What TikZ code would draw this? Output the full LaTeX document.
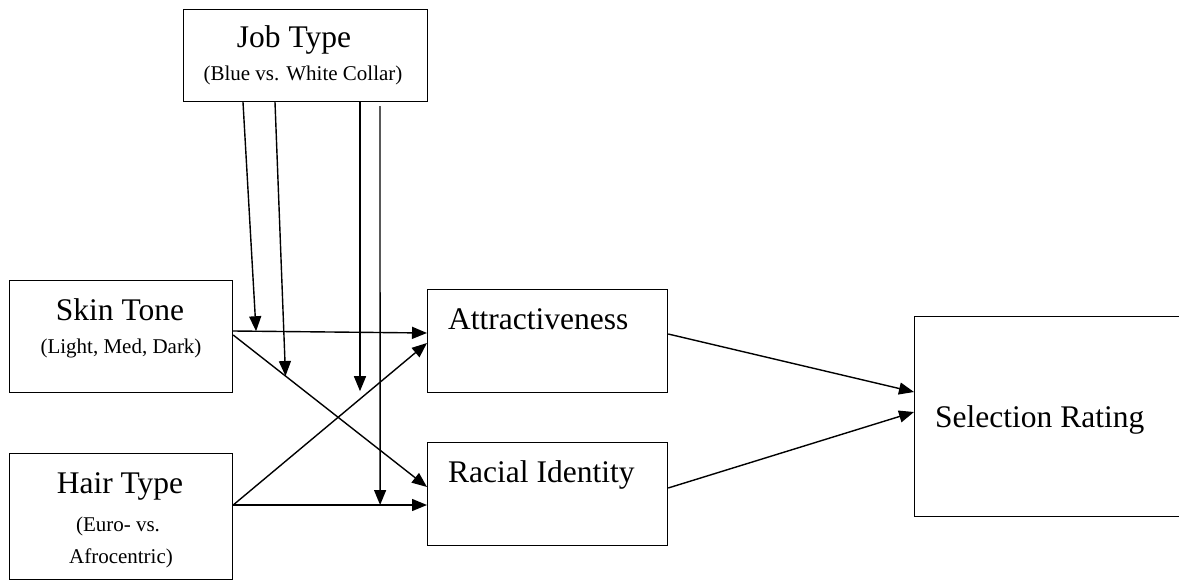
\documentclass[tikz,border=0pt]{standalone}
\usepackage{fontspec}
\setmainfont{Liberation Serif}
\usetikzlibrary{arrows.meta,calc}
\begin{document}
\begin{tikzpicture}[x=1pt,y=-1pt,
  box/.style={draw, line width=1.2pt, rectangle, inner sep=0pt, anchor=north west},
  title/.style={font=\fontsize{31.5}{36}\selectfont, inner sep=0pt},
  sub/.style={font=\fontsize{21}{25}\selectfont, inner sep=0pt},
  link/.style={line width=1.4pt, -{Triangle[length=15pt,width=12pt]}}]
\useasboundingbox (0,0) rectangle (1179,581);
\clip (0,0) rectangle (1179,581);

% boxes
\node[box, minimum width=244pt, minimum height=92pt]  (job)    at (183,9)   {};
\node[box, minimum width=223pt, minimum height=112pt] (skin)   at (9,280)   {};
\node[box, minimum width=223pt, minimum height=126pt] (hair)   at (9,453)   {};
\node[box, minimum width=240pt, minimum height=103pt] (attr)   at (427,289) {};
\node[box, minimum width=240pt, minimum height=103pt] (racial) at (427,442) {};
\node[box, minimum width=340pt, minimum height=200pt] (sel)    at (914,316) {};

% labels
\node[title, anchor=base] (jobt)  at (294,47)  {Job Type};
\node[sub,   anchor=base] (jobs)  at (303,80)  {(Blue vs. White Collar)};
\node[title, anchor=base] (skint) at (120,320) {Skin Tone};
\node[sub,   anchor=base] (skins) at (121,353) {(Light, Med, Dark)};
\node[title, anchor=base] (hairt) at (120,493) {Hair Type};
\node[sub,   anchor=base] (hairs) at (118,531) {(Euro- vs.};
\node[sub,   anchor=base] (hairu) at (121,563) {Afrocentric)};
\node[title, anchor=base west] (attrt) at (448,329) {Attractiveness};
\node[title, anchor=base west] (racit) at (448,482) {Racial Identity};
\node[title, anchor=base west] (selt)  at (935,427) {Selection Rating};

% connector end points
\coordinate (s1)   at ($(skin.north east)+(0,51)$);
\coordinate (s2)   at ($(skin.north east)+(0,55)$);
\coordinate (h1)   at ($(hair.north east)+(0,52)$);
\coordinate (a1)   at ($(attr.north west)+(0,44)$);
\coordinate (a2)   at ($(attr.north west)+(0,54)$);
\coordinate (r1)   at ($(racial.north west)+(0,45)$);
\coordinate (r2)   at ($(racial.north west)+(0,63)$);
\coordinate (aout) at ($(attr.north east)+(0,45)$);
\coordinate (rout) at ($(racial.north east)+(0,46)$);
\coordinate (sel1) at ($(sel.north west)+(0,76)$);
\coordinate (sel2) at ($(sel.north west)+(0,96)$);

% moderator lines from Job Type
\coordinate (j1) at ($(job.south west)+(60,0)$);
\coordinate (j2) at ($(job.south west)+(92,0)$);
\coordinate (j3) at ($(job.south west)+(177,0)$);
\coordinate (j4) at ($(job.south west)+(197,4)$);
\coordinate (t1) at ($(s1)!0.118!(a1)$);
\coordinate (t2) at ($(s2)!0.27!(r1)$);
\coordinate (t3) at ($(j3)+(0,289)$);
\coordinate (t4) at ($(h1)!0.758!(r2)$);

% main paths
\draw[link] (s1) -- (a1);
\draw[link] (s2) -- (r1);
\draw[link] (h1) -- (a2);
\draw[link] (h1) -- (r2);
\draw[link] (aout) -- (sel1);
\draw[link] (rout) -- (sel2);

\draw[link] (j1) -- (t1);
\draw[link] (j2) -- (t2);
\draw[link] (j3) -- (t3);
\draw[link] (j4) -- (t4);
\end{tikzpicture}
\end{document}
